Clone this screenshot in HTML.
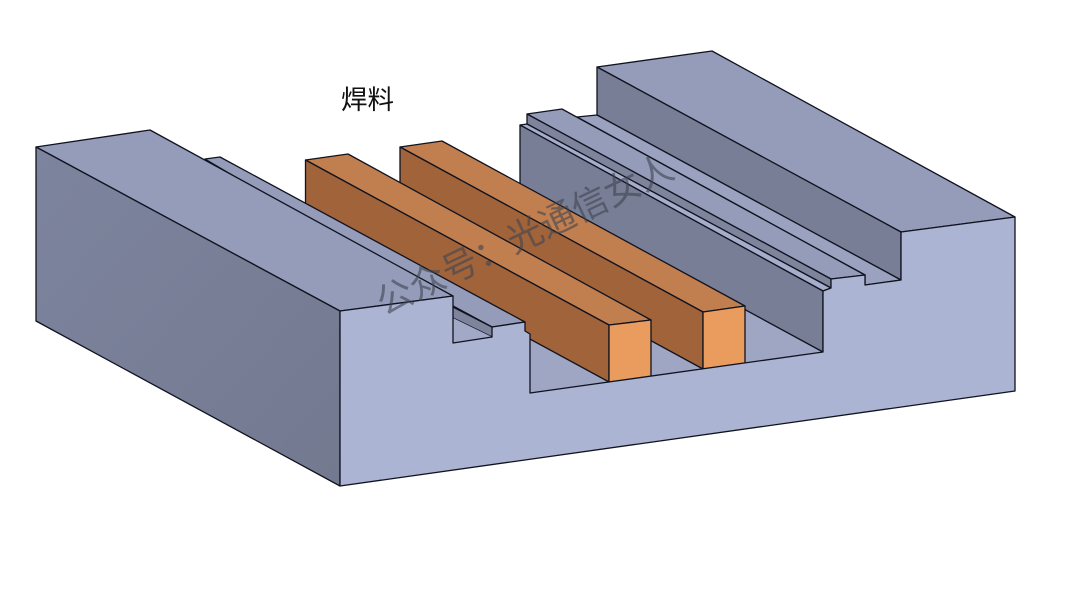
<!DOCTYPE html>
<html>
<head>
<meta charset="utf-8">
<style>
html,body{margin:0;padding:0;background:#fff;width:1080px;height:608px;overflow:hidden}
svg{display:block}
polygon,polyline,line{stroke:#10131f;stroke-width:1.3;stroke-linejoin:round}
.n{stroke:none}
</style>
</head>
<body>
<svg width="1080" height="608" viewBox="0 0 1080 608" xmlns="http://www.w3.org/2000/svg">
<defs>
<linearGradient id="lf" x1="0" y1="0" x2="1" y2="1">
<stop offset="0" stop-color="#7d849e"/><stop offset="1" stop-color="#73798f"/>
</linearGradient>
</defs>

<!-- pit floor -->
<polygon class="n" points="450,296 520,187 823,352 530,393" fill="#9fa6c4"/>

<!-- right upper block -->
<polygon points="597,67 712,51 1015,217 901,232" fill="#959cb9"/>
<polygon points="597,67 901,232 901,280 597,115" fill="#787e96"/>
<!-- right flat -->
<polygon points="577,117 597,115 901,280 865,285 865,275" fill="#9ba2c0"/>
<!-- right raised ledge -->
<polygon points="527,114 562,109 865,275 831,279" fill="#959cba"/>
<polygon points="527,114 831,279 831,288 527,124" fill="#7e849c"/>
<polygon points="520,125 527,124 831,288 823,291" fill="#a6adcb"/>
<!-- pit right wall -->
<polygon points="520,125 823,291 823,352 520,187.5" fill="#787e96"/>

<!-- solder 2 -->
<polygon points="400,147 442,141 745,306 703,312" fill="#c17f4f"/>
<polygon points="400,147 703,312 703,369 400,204" fill="#a1633a"/>
<polygon points="703,312 745,306 745,363 703,369" fill="#e99c5e"/>
<!-- solder 1 -->
<polygon points="305.500,160 348,154 651,320 609,325" fill="#c17f4f"/>
<polygon points="305.500,160 609,325 609,382 305.500,217" fill="#a1633a"/>
<polygon points="609,325 651,320 651,377 609,382" fill="#e99c5e"/>

<!-- left ledge -->
<polygon points="205,159 220,157 525,322 492,327 453,306" fill="#959cba"/>
<polygon class="n" points="453,307 492,327 492,337 453,318" fill="#7e849c"/>
<line x1="453" y1="307" x2="492" y2="327"/>
<line x1="453" y1="318" x2="492" y2="337"/>
<polygon class="n" points="453,318 492,337 453,343" fill="#a2a9c7"/>

<!-- left block top -->
<polygon points="36,147 150,130 453,296 340,311" fill="#959cb9"/>
<!-- left face -->
<polygon points="36,147 340,311 340,486 36,321" fill="url(#lf)"/>

<!-- front face -->
<polygon points="340,311 453,296 453,343 492,337 492,327 525,322 525,331 530,334 530,393 823,352 823,291 831,288 831,279 865,275 865,285 901,280 901,232 1015,217 1015,391 340,486" fill="#acb4d3"/>

<!-- watermark -->
<text x="0" y="0" transform="translate(384,316) rotate(-25.500)" font-family="'Liberation Sans','Noto Sans CJK SC',sans-serif" font-size="36" fill="#3f4450" fill-opacity="0.6">公众号：光通信女人</text>

<!-- label -->
<text x="341" y="109" font-family="'Liberation Sans','Noto Sans CJK SC',sans-serif" font-size="26.500" fill="#111">焊料</text>
</svg>
</body>
</html>
